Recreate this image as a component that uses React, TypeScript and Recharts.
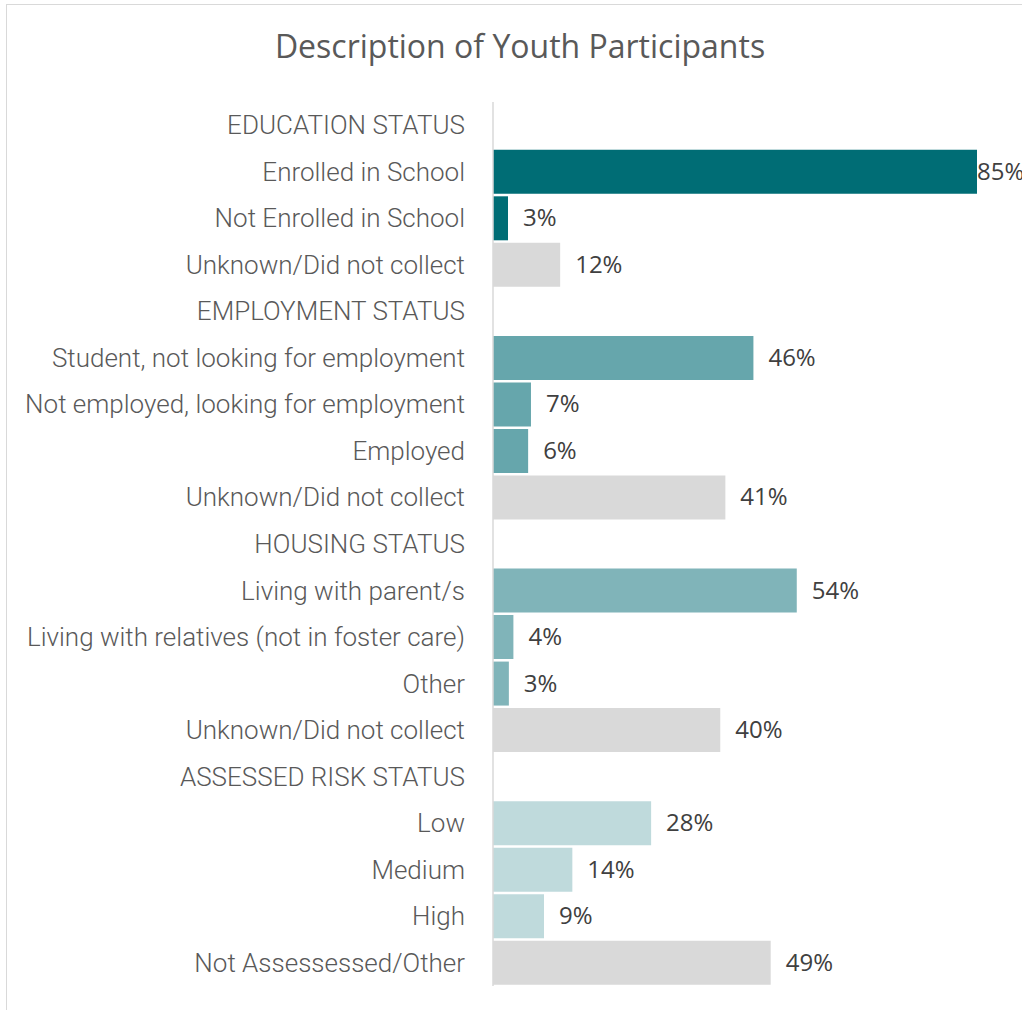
import { Bar, BarChart, Cell, LabelList, XAxis, YAxis } from "recharts";

const categories = [
  "EDUCATION STATUS",
  "Enrolled in School",
  "Not Enrolled in School",
  "Unknown/Did not collect",
  "EMPLOYMENT STATUS",
  "Student, not looking for employment",
  "Not employed, looking for employment",
  "Employed ",
  "Unknown/Did not collect",
  "HOUSING STATUS",
  "Living with parent/s",
  "Living with relatives (not in foster care)",
  "Other ",
  "Unknown/Did not collect",
  "ASSESSED RISK STATUS",
  "Low",
  "Medium",
  "High",
  "Not Assessessed/Other",
];

// percent of youth participants, null for section headers
const values = [
  null, 85.4, 2.65, 11.85,
  null, 45.95, 6.7, 6.2, 41.0,
  null, 53.6, 3.6, 2.8, 40.1,
  null, 27.9, 14.0, 9.0, 49.0,
];

const groups = [
  "header", "education", "education", "unknown",
  "header", "employment", "employment", "employment", "unknown",
  "header", "housing", "housing", "housing", "unknown",
  "header", "risk", "risk", "risk", "unknown",
];

const groupColors: Record<string, string> = {
  header: "transparent",
  education: "#006D75",
  employment: "#66A6AC",
  housing: "#80B4B9",
  risk: "#BFDADC",
  unknown: "#D9D9D9",
};

const rows = categories.map((name, i) => ({
  key: `${i}`,
  name,
  value: values[i],
  group: groups[i],
}));

const maxValue = Math.max(...values.filter((v): v is number => v != null));

function CategoryTick(props: any) {
  const { x, y, payload } = props;
  const label = rows[Number(payload.value)]?.name ?? "";
  return (
    <text
      x={x}
      y={y}
      dy={9}
      textAnchor="end"
      fill="#595959"
      fontFamily="Roboto"
      fontWeight={300}
      fontSize={26}
    >
      {label}
    </text>
  );
}

function ValueLabel(props: any) {
  const { x, y, width, height, value } = props;
  if (value == null) return null;
  // the largest bar fills the plot, so its label sits right at the bar end
  const gap = value >= maxValue ? 0 : 15;
  return (
    <text
      x={x + width + gap}
      y={y + height / 2}
      dy={8}
      fill="#404040"
      fontFamily="Open Sans"
      fontSize={24}
    >
      {Math.round(value)}%
    </text>
  );
}

export default function App() {
  return (
    <div
      style={{
        position: "absolute",
        left: 0,
        top: 0,
        width: 1022,
        height: 1010,
        background: "#fff",
        overflow: "hidden",
      }}
    >
      <div
        style={{
          position: "absolute",
          left: 6,
          top: 4,
          width: 1030,
          height: 1020,
          border: "1px solid #D9D9D9",
          boxSizing: "border-box",
        }}
      />
      <div
        style={{
          position: "absolute",
          left: 0,
          top: 24,
          width: 1040,
          textAlign: "center",
          fontFamily: "Open Sans",
          fontSize: 32,
          color: "#595959",
        }}
      >
        Description of Youth Participants
      </div>
      <div style={{ position: "absolute", left: 0, top: 0 }}>
        <BarChart
          width={1022}
          height={1010}
          data={rows}
          layout="vertical"
          margin={{ top: 102, right: 45, bottom: 24, left: 0 }}
          barCategoryGap="2.7%"
        >
          <XAxis type="number" hide domain={[0, "dataMax"]} />
          <YAxis
            type="category"
            dataKey="key"
            width={493}
            tickLine={false}
            tickMargin={22}
            axisLine={{ stroke: "#D9D9D9", strokeWidth: 1.5 }}
            tick={<CategoryTick />}
            interval={0}
          />
          <Bar dataKey="value" isAnimationActive={false}>
            {rows.map((r) => (
              <Cell key={r.key} fill={groupColors[r.group]} />
            ))}
            <LabelList dataKey="value" content={<ValueLabel />} />
          </Bar>
        </BarChart>
      </div>
    </div>
  );
}
